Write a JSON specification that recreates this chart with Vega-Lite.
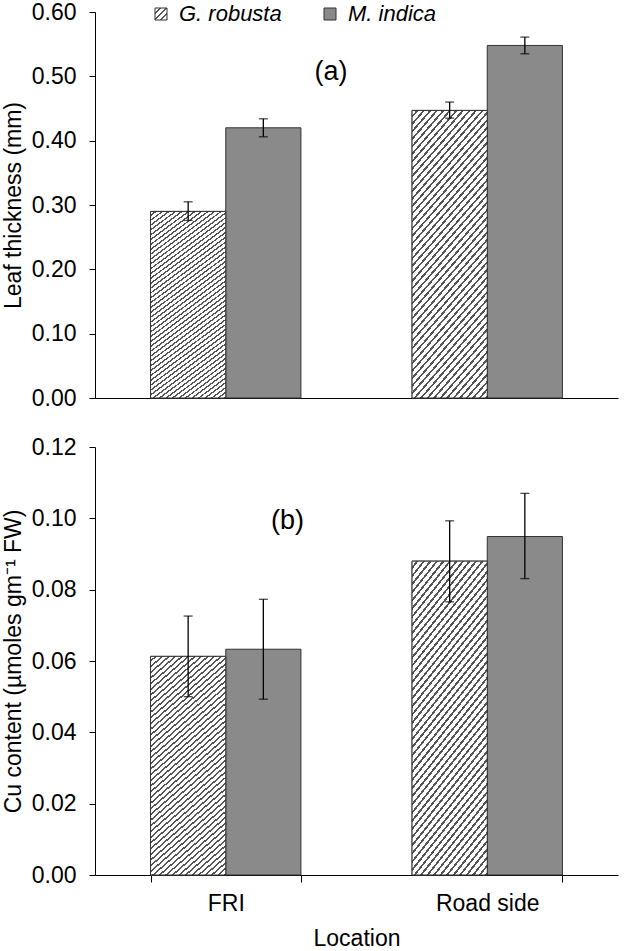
{
  "$schema": "https://vega.github.io/schema/vega-lite/v6.json",
  "padding": {"left": 2, "top": 1, "right": 5, "bottom": 5},
  "background": "white",
  "config": {
    "font": "Liberation Sans",
    "view": {"stroke": null},
    "axis": {
      "domainColor": "#000", "tickColor": "#000", "labelColor": "#000", "titleColor": "#000",
      "labelFontSize": 23, "titleFontSize": 23, "titleFontWeight": "normal",
      "grid": false, "tickSize": 6, "domainWidth": 1, "tickWidth": 1
    },
    "legend": {"labelFontSize": 22, "labelColor": "#000", "labelFontStyle": "italic", "padding": 0}
  },
  "data": {"values": [
    {"panel": "a", "location": "FRI", "species": "G. robusta", "value": 0.290, "lo": 0.276, "hi": 0.305},
    {"panel": "a", "location": "FRI", "species": "M. indica", "value": 0.420, "lo": 0.406, "hi": 0.434},
    {"panel": "a", "location": "Road side", "species": "G. robusta", "value": 0.447, "lo": 0.435, "hi": 0.460},
    {"panel": "a", "location": "Road side", "species": "M. indica", "value": 0.548, "lo": 0.535, "hi": 0.561},
    {"panel": "b", "location": "FRI", "species": "G. robusta", "value": 0.0613, "lo": 0.0500, "hi": 0.0726},
    {"panel": "b", "location": "FRI", "species": "M. indica", "value": 0.0633, "lo": 0.0493, "hi": 0.0773},
    {"panel": "b", "location": "Road side", "species": "G. robusta", "value": 0.0880, "lo": 0.0766, "hi": 0.0993},
    {"panel": "b", "location": "Road side", "species": "M. indica", "value": 0.0949, "lo": 0.0831, "hi": 0.1070}
  ]},
  "spacing": 26,
  "resolve": {"scale": {"fill": "shared"}},
  "vconcat": [
    {
      "width": 523,
      "height": 386,
      "layer": [
        {
          "transform": [{"filter": "datum.panel == 'a'"}],
          "mark": {"type": "bar", "stroke": "#333", "strokeWidth": 1},
          "encoding": {
            "x": {"field": "location", "type": "nominal", "scale": {"paddingInner": 0.425, "paddingOuter": 0.2125}, "axis": {"labels": false, "ticks": false, "title": null}},
            "xOffset": {"field": "species", "type": "nominal", "scale": {"paddingInner": 0, "paddingOuter": 0}},
            "y": {"field": "value", "type": "quantitative", "scale": {"domain": [0, 0.6]}, "axis": {"values": [0, 0.1, 0.2, 0.3, 0.4, 0.5, 0.6], "format": ".2f", "title": "Leaf thickness (mm)", "labelPadding": 13, "titlePadding": 6}},
            "fill": {"field": "species", "type": "nominal",
              "scale": {"domain": ["G. robusta", "M. indica"], "range": [
                {"expr": "{gradient: 'linear', x1: 0, y1: 0, x2: 1, y2: 1, stops: [{offset: 0, color: '#fff'}, {offset: 0.17, color: '#fff'}, {offset: 0.17, color: '#555'}, {offset: 0.25, color: '#555'}, {offset: 0.25, color: '#fff'}, {offset: 0.42, color: '#fff'}, {offset: 0.42, color: '#555'}, {offset: 0.5, color: '#555'}, {offset: 0.5, color: '#fff'}, {offset: 0.67, color: '#fff'}, {offset: 0.67, color: '#555'}, {offset: 0.75, color: '#555'}, {offset: 0.75, color: '#fff'}, {offset: 0.92, color: '#fff'}, {offset: 0.92, color: '#555'}, {offset: 1, color: '#555'}]}"},
                "#8a8a8a"
              ]},
              "legend": {"orient": "none", "direction": "horizontal", "legendX": 55, "legendY": -9, "title": null, "symbolType": "square", "symbolSize": 144, "symbolStrokeColor": "#333", "symbolStrokeWidth": 1, "columnPadding": 37, "labelOffset": 7}
            }
          }
        },
        {
          "transform": [{"filter": "datum.panel == 'a' && datum.species == 'G. robusta'"}],
          "mark": {"type": "bar", "stroke": "#333", "strokeWidth": 1,
            "fill": {"gradient": "linear", "x1": 0, "y1": 0, "x2": 0.358, "y2": 1.193, "stops": [
{"offset":0,"color":"#fff"},{"offset":0.013,"color":"#fff"},{"offset":0.013,"color":"#555"},{"offset":0.02,"color":"#555"},
{"offset":0.02,"color":"#fff"},{"offset":0.033,"color":"#fff"},{"offset":0.033,"color":"#555"},{"offset":0.04,"color":"#555"},
{"offset":0.04,"color":"#fff"},{"offset":0.053,"color":"#fff"},{"offset":0.053,"color":"#555"},{"offset":0.06,"color":"#555"},
{"offset":0.06,"color":"#fff"},{"offset":0.073,"color":"#fff"},{"offset":0.073,"color":"#555"},{"offset":0.08,"color":"#555"},
{"offset":0.08,"color":"#fff"},{"offset":0.093,"color":"#fff"},{"offset":0.093,"color":"#555"},{"offset":0.10,"color":"#555"},
{"offset":0.10,"color":"#fff"},{"offset":0.113,"color":"#fff"},{"offset":0.113,"color":"#555"},{"offset":0.12,"color":"#555"},
{"offset":0.12,"color":"#fff"},{"offset":0.133,"color":"#fff"},{"offset":0.133,"color":"#555"},{"offset":0.14,"color":"#555"},
{"offset":0.14,"color":"#fff"},{"offset":0.153,"color":"#fff"},{"offset":0.153,"color":"#555"},{"offset":0.16,"color":"#555"},
{"offset":0.16,"color":"#fff"},{"offset":0.173,"color":"#fff"},{"offset":0.173,"color":"#555"},{"offset":0.18,"color":"#555"},
{"offset":0.18,"color":"#fff"},{"offset":0.193,"color":"#fff"},{"offset":0.193,"color":"#555"},{"offset":0.20,"color":"#555"},
{"offset":0.20,"color":"#fff"},{"offset":0.213,"color":"#fff"},{"offset":0.213,"color":"#555"},{"offset":0.22,"color":"#555"},
{"offset":0.22,"color":"#fff"},{"offset":0.233,"color":"#fff"},{"offset":0.233,"color":"#555"},{"offset":0.24,"color":"#555"},
{"offset":0.24,"color":"#fff"},{"offset":0.253,"color":"#fff"},{"offset":0.253,"color":"#555"},{"offset":0.26,"color":"#555"},
{"offset":0.26,"color":"#fff"},{"offset":0.273,"color":"#fff"},{"offset":0.273,"color":"#555"},{"offset":0.28,"color":"#555"},
{"offset":0.28,"color":"#fff"},{"offset":0.293,"color":"#fff"},{"offset":0.293,"color":"#555"},{"offset":0.30,"color":"#555"},
{"offset":0.30,"color":"#fff"},{"offset":0.313,"color":"#fff"},{"offset":0.313,"color":"#555"},{"offset":0.32,"color":"#555"},
{"offset":0.32,"color":"#fff"},{"offset":0.333,"color":"#fff"},{"offset":0.333,"color":"#555"},{"offset":0.34,"color":"#555"},
{"offset":0.34,"color":"#fff"},{"offset":0.353,"color":"#fff"},{"offset":0.353,"color":"#555"},{"offset":0.36,"color":"#555"},
{"offset":0.36,"color":"#fff"},{"offset":0.373,"color":"#fff"},{"offset":0.373,"color":"#555"},{"offset":0.38,"color":"#555"},
{"offset":0.38,"color":"#fff"},{"offset":0.393,"color":"#fff"},{"offset":0.393,"color":"#555"},{"offset":0.40,"color":"#555"},
{"offset":0.40,"color":"#fff"},{"offset":0.413,"color":"#fff"},{"offset":0.413,"color":"#555"},{"offset":0.42,"color":"#555"},
{"offset":0.42,"color":"#fff"},{"offset":0.433,"color":"#fff"},{"offset":0.433,"color":"#555"},{"offset":0.44,"color":"#555"},
{"offset":0.44,"color":"#fff"},{"offset":0.453,"color":"#fff"},{"offset":0.453,"color":"#555"},{"offset":0.46,"color":"#555"},
{"offset":0.46,"color":"#fff"},{"offset":0.473,"color":"#fff"},{"offset":0.473,"color":"#555"},{"offset":0.48,"color":"#555"},
{"offset":0.48,"color":"#fff"},{"offset":0.493,"color":"#fff"},{"offset":0.493,"color":"#555"},{"offset":0.50,"color":"#555"},
{"offset":0.50,"color":"#fff"},{"offset":0.513,"color":"#fff"},{"offset":0.513,"color":"#555"},{"offset":0.52,"color":"#555"},
{"offset":0.52,"color":"#fff"},{"offset":0.533,"color":"#fff"},{"offset":0.533,"color":"#555"},{"offset":0.54,"color":"#555"},
{"offset":0.54,"color":"#fff"},{"offset":0.553,"color":"#fff"},{"offset":0.553,"color":"#555"},{"offset":0.56,"color":"#555"},
{"offset":0.56,"color":"#fff"},{"offset":0.573,"color":"#fff"},{"offset":0.573,"color":"#555"},{"offset":0.58,"color":"#555"},
{"offset":0.58,"color":"#fff"},{"offset":0.593,"color":"#fff"},{"offset":0.593,"color":"#555"},{"offset":0.60,"color":"#555"},
{"offset":0.60,"color":"#fff"},{"offset":0.613,"color":"#fff"},{"offset":0.613,"color":"#555"},{"offset":0.62,"color":"#555"},
{"offset":0.62,"color":"#fff"},{"offset":0.633,"color":"#fff"},{"offset":0.633,"color":"#555"},{"offset":0.64,"color":"#555"},
{"offset":0.64,"color":"#fff"},{"offset":0.653,"color":"#fff"},{"offset":0.653,"color":"#555"},{"offset":0.66,"color":"#555"},
{"offset":0.66,"color":"#fff"},{"offset":0.673,"color":"#fff"},{"offset":0.673,"color":"#555"},{"offset":0.68,"color":"#555"},
{"offset":0.68,"color":"#fff"},{"offset":0.693,"color":"#fff"},{"offset":0.693,"color":"#555"},{"offset":0.70,"color":"#555"},
{"offset":0.70,"color":"#fff"},{"offset":0.713,"color":"#fff"},{"offset":0.713,"color":"#555"},{"offset":0.72,"color":"#555"},
{"offset":0.72,"color":"#fff"},{"offset":0.733,"color":"#fff"},{"offset":0.733,"color":"#555"},{"offset":0.74,"color":"#555"},
{"offset":0.74,"color":"#fff"},{"offset":0.753,"color":"#fff"},{"offset":0.753,"color":"#555"},{"offset":0.76,"color":"#555"},
{"offset":0.76,"color":"#fff"},{"offset":0.773,"color":"#fff"},{"offset":0.773,"color":"#555"},{"offset":0.78,"color":"#555"},
{"offset":0.78,"color":"#fff"},{"offset":0.793,"color":"#fff"},{"offset":0.793,"color":"#555"},{"offset":0.80,"color":"#555"},
{"offset":0.80,"color":"#fff"},{"offset":0.813,"color":"#fff"},{"offset":0.813,"color":"#555"},{"offset":0.82,"color":"#555"},
{"offset":0.82,"color":"#fff"},{"offset":0.833,"color":"#fff"},{"offset":0.833,"color":"#555"},{"offset":0.84,"color":"#555"},
{"offset":0.84,"color":"#fff"},{"offset":0.853,"color":"#fff"},{"offset":0.853,"color":"#555"},{"offset":0.86,"color":"#555"},
{"offset":0.86,"color":"#fff"},{"offset":0.873,"color":"#fff"},{"offset":0.873,"color":"#555"},{"offset":0.88,"color":"#555"},
{"offset":0.88,"color":"#fff"},{"offset":0.893,"color":"#fff"},{"offset":0.893,"color":"#555"},{"offset":0.90,"color":"#555"},
{"offset":0.90,"color":"#fff"},{"offset":0.913,"color":"#fff"},{"offset":0.913,"color":"#555"},{"offset":0.92,"color":"#555"},
{"offset":0.92,"color":"#fff"},{"offset":0.933,"color":"#fff"},{"offset":0.933,"color":"#555"},{"offset":0.94,"color":"#555"},
{"offset":0.94,"color":"#fff"},{"offset":0.953,"color":"#fff"},{"offset":0.953,"color":"#555"},{"offset":0.96,"color":"#555"},
{"offset":0.96,"color":"#fff"},{"offset":0.973,"color":"#fff"},{"offset":0.973,"color":"#555"},{"offset":0.98,"color":"#555"},
{"offset":0.98,"color":"#fff"},{"offset":0.993,"color":"#fff"},{"offset":0.993,"color":"#555"},{"offset":1,"color":"#555"}
            ]}
          },
          "encoding": {
            "x": {"field": "location", "type": "nominal"},
            "xOffset": {"field": "species", "type": "nominal"},
            "y": {"field": "value", "type": "quantitative"}
          }
        },
        {
          "transform": [{"filter": "datum.panel == 'a'"}],
          "mark": {"type": "rule", "color": "#000", "strokeWidth": 1.3},
          "encoding": {
            "x": {"field": "location", "type": "nominal"},
            "xOffset": {"field": "species", "type": "nominal"},
            "y": {"field": "lo", "type": "quantitative"},
            "y2": {"field": "hi"}
          }
        },
        {
          "transform": [{"filter": "datum.panel == 'a'"}],
          "mark": {"type": "tick", "color": "#000", "size": 9, "thickness": 1.3},
          "encoding": {
            "x": {"field": "location", "type": "nominal"},
            "xOffset": {"field": "species", "type": "nominal"},
            "y": {"field": "lo", "type": "quantitative"}
          }
        },
        {
          "transform": [{"filter": "datum.panel == 'a'"}],
          "mark": {"type": "tick", "color": "#000", "size": 9, "thickness": 1.3},
          "encoding": {
            "x": {"field": "location", "type": "nominal"},
            "xOffset": {"field": "species", "type": "nominal"},
            "y": {"field": "hi", "type": "quantitative"}
          }
        },
        {
          "data": {"values": [{"label": "(a)"}]},
          "mark": {"type": "text", "fontSize": 27, "color": "#000", "font": "Liberation Sans"},
          "encoding": {
            "text": {"field": "label"},
            "x": {"datum": "FRI", "bandPosition": 1.2},
            "y": {"datum": 0.506}
          }
        }
      ]
    },
    {
      "width": 523,
      "height": 428,
      "layer": [
        {
          "transform": [{"filter": "datum.panel == 'b'"}],
          "mark": {"type": "bar", "stroke": "#333", "strokeWidth": 1},
          "encoding": {
            "x": {"field": "location", "type": "nominal", "scale": {"paddingInner": 0.425, "paddingOuter": 0.2125}, "axis": {"title": "Location", "labelAngle": 0, "tickBand": "extent", "tickSize": 7, "labelPadding": 10, "titlePadding": 12}},
            "xOffset": {"field": "species", "type": "nominal", "scale": {"paddingInner": 0, "paddingOuter": 0}},
            "y": {"field": "value", "type": "quantitative", "scale": {"domain": [0, 0.12]}, "axis": {"values": [0, 0.02, 0.04, 0.06, 0.08, 0.10, 0.12], "format": ".2f", "title": "Cu content (µmoles gm⁻¹ FW)", "labelPadding": 13, "titlePadding": 6}},
            "fill": {"field": "species", "type": "nominal", "legend": null}
          }
        },
        {
          "transform": [{"filter": "datum.panel == 'b' && datum.species == 'G. robusta'"}],
          "mark": {"type": "bar", "stroke": "#333", "strokeWidth": 1,
            "fill": {"gradient": "linear", "x1": 0, "y1": 0, "x2": 0.358, "y2": 1.193, "stops": [
{"offset":0,"color":"#fff"},{"offset":0.013,"color":"#fff"},{"offset":0.013,"color":"#555"},{"offset":0.02,"color":"#555"},
{"offset":0.02,"color":"#fff"},{"offset":0.033,"color":"#fff"},{"offset":0.033,"color":"#555"},{"offset":0.04,"color":"#555"},
{"offset":0.04,"color":"#fff"},{"offset":0.053,"color":"#fff"},{"offset":0.053,"color":"#555"},{"offset":0.06,"color":"#555"},
{"offset":0.06,"color":"#fff"},{"offset":0.073,"color":"#fff"},{"offset":0.073,"color":"#555"},{"offset":0.08,"color":"#555"},
{"offset":0.08,"color":"#fff"},{"offset":0.093,"color":"#fff"},{"offset":0.093,"color":"#555"},{"offset":0.10,"color":"#555"},
{"offset":0.10,"color":"#fff"},{"offset":0.113,"color":"#fff"},{"offset":0.113,"color":"#555"},{"offset":0.12,"color":"#555"},
{"offset":0.12,"color":"#fff"},{"offset":0.133,"color":"#fff"},{"offset":0.133,"color":"#555"},{"offset":0.14,"color":"#555"},
{"offset":0.14,"color":"#fff"},{"offset":0.153,"color":"#fff"},{"offset":0.153,"color":"#555"},{"offset":0.16,"color":"#555"},
{"offset":0.16,"color":"#fff"},{"offset":0.173,"color":"#fff"},{"offset":0.173,"color":"#555"},{"offset":0.18,"color":"#555"},
{"offset":0.18,"color":"#fff"},{"offset":0.193,"color":"#fff"},{"offset":0.193,"color":"#555"},{"offset":0.20,"color":"#555"},
{"offset":0.20,"color":"#fff"},{"offset":0.213,"color":"#fff"},{"offset":0.213,"color":"#555"},{"offset":0.22,"color":"#555"},
{"offset":0.22,"color":"#fff"},{"offset":0.233,"color":"#fff"},{"offset":0.233,"color":"#555"},{"offset":0.24,"color":"#555"},
{"offset":0.24,"color":"#fff"},{"offset":0.253,"color":"#fff"},{"offset":0.253,"color":"#555"},{"offset":0.26,"color":"#555"},
{"offset":0.26,"color":"#fff"},{"offset":0.273,"color":"#fff"},{"offset":0.273,"color":"#555"},{"offset":0.28,"color":"#555"},
{"offset":0.28,"color":"#fff"},{"offset":0.293,"color":"#fff"},{"offset":0.293,"color":"#555"},{"offset":0.30,"color":"#555"},
{"offset":0.30,"color":"#fff"},{"offset":0.313,"color":"#fff"},{"offset":0.313,"color":"#555"},{"offset":0.32,"color":"#555"},
{"offset":0.32,"color":"#fff"},{"offset":0.333,"color":"#fff"},{"offset":0.333,"color":"#555"},{"offset":0.34,"color":"#555"},
{"offset":0.34,"color":"#fff"},{"offset":0.353,"color":"#fff"},{"offset":0.353,"color":"#555"},{"offset":0.36,"color":"#555"},
{"offset":0.36,"color":"#fff"},{"offset":0.373,"color":"#fff"},{"offset":0.373,"color":"#555"},{"offset":0.38,"color":"#555"},
{"offset":0.38,"color":"#fff"},{"offset":0.393,"color":"#fff"},{"offset":0.393,"color":"#555"},{"offset":0.40,"color":"#555"},
{"offset":0.40,"color":"#fff"},{"offset":0.413,"color":"#fff"},{"offset":0.413,"color":"#555"},{"offset":0.42,"color":"#555"},
{"offset":0.42,"color":"#fff"},{"offset":0.433,"color":"#fff"},{"offset":0.433,"color":"#555"},{"offset":0.44,"color":"#555"},
{"offset":0.44,"color":"#fff"},{"offset":0.453,"color":"#fff"},{"offset":0.453,"color":"#555"},{"offset":0.46,"color":"#555"},
{"offset":0.46,"color":"#fff"},{"offset":0.473,"color":"#fff"},{"offset":0.473,"color":"#555"},{"offset":0.48,"color":"#555"},
{"offset":0.48,"color":"#fff"},{"offset":0.493,"color":"#fff"},{"offset":0.493,"color":"#555"},{"offset":0.50,"color":"#555"},
{"offset":0.50,"color":"#fff"},{"offset":0.513,"color":"#fff"},{"offset":0.513,"color":"#555"},{"offset":0.52,"color":"#555"},
{"offset":0.52,"color":"#fff"},{"offset":0.533,"color":"#fff"},{"offset":0.533,"color":"#555"},{"offset":0.54,"color":"#555"},
{"offset":0.54,"color":"#fff"},{"offset":0.553,"color":"#fff"},{"offset":0.553,"color":"#555"},{"offset":0.56,"color":"#555"},
{"offset":0.56,"color":"#fff"},{"offset":0.573,"color":"#fff"},{"offset":0.573,"color":"#555"},{"offset":0.58,"color":"#555"},
{"offset":0.58,"color":"#fff"},{"offset":0.593,"color":"#fff"},{"offset":0.593,"color":"#555"},{"offset":0.60,"color":"#555"},
{"offset":0.60,"color":"#fff"},{"offset":0.613,"color":"#fff"},{"offset":0.613,"color":"#555"},{"offset":0.62,"color":"#555"},
{"offset":0.62,"color":"#fff"},{"offset":0.633,"color":"#fff"},{"offset":0.633,"color":"#555"},{"offset":0.64,"color":"#555"},
{"offset":0.64,"color":"#fff"},{"offset":0.653,"color":"#fff"},{"offset":0.653,"color":"#555"},{"offset":0.66,"color":"#555"},
{"offset":0.66,"color":"#fff"},{"offset":0.673,"color":"#fff"},{"offset":0.673,"color":"#555"},{"offset":0.68,"color":"#555"},
{"offset":0.68,"color":"#fff"},{"offset":0.693,"color":"#fff"},{"offset":0.693,"color":"#555"},{"offset":0.70,"color":"#555"},
{"offset":0.70,"color":"#fff"},{"offset":0.713,"color":"#fff"},{"offset":0.713,"color":"#555"},{"offset":0.72,"color":"#555"},
{"offset":0.72,"color":"#fff"},{"offset":0.733,"color":"#fff"},{"offset":0.733,"color":"#555"},{"offset":0.74,"color":"#555"},
{"offset":0.74,"color":"#fff"},{"offset":0.753,"color":"#fff"},{"offset":0.753,"color":"#555"},{"offset":0.76,"color":"#555"},
{"offset":0.76,"color":"#fff"},{"offset":0.773,"color":"#fff"},{"offset":0.773,"color":"#555"},{"offset":0.78,"color":"#555"},
{"offset":0.78,"color":"#fff"},{"offset":0.793,"color":"#fff"},{"offset":0.793,"color":"#555"},{"offset":0.80,"color":"#555"},
{"offset":0.80,"color":"#fff"},{"offset":0.813,"color":"#fff"},{"offset":0.813,"color":"#555"},{"offset":0.82,"color":"#555"},
{"offset":0.82,"color":"#fff"},{"offset":0.833,"color":"#fff"},{"offset":0.833,"color":"#555"},{"offset":0.84,"color":"#555"},
{"offset":0.84,"color":"#fff"},{"offset":0.853,"color":"#fff"},{"offset":0.853,"color":"#555"},{"offset":0.86,"color":"#555"},
{"offset":0.86,"color":"#fff"},{"offset":0.873,"color":"#fff"},{"offset":0.873,"color":"#555"},{"offset":0.88,"color":"#555"},
{"offset":0.88,"color":"#fff"},{"offset":0.893,"color":"#fff"},{"offset":0.893,"color":"#555"},{"offset":0.90,"color":"#555"},
{"offset":0.90,"color":"#fff"},{"offset":0.913,"color":"#fff"},{"offset":0.913,"color":"#555"},{"offset":0.92,"color":"#555"},
{"offset":0.92,"color":"#fff"},{"offset":0.933,"color":"#fff"},{"offset":0.933,"color":"#555"},{"offset":0.94,"color":"#555"},
{"offset":0.94,"color":"#fff"},{"offset":0.953,"color":"#fff"},{"offset":0.953,"color":"#555"},{"offset":0.96,"color":"#555"},
{"offset":0.96,"color":"#fff"},{"offset":0.973,"color":"#fff"},{"offset":0.973,"color":"#555"},{"offset":0.98,"color":"#555"},
{"offset":0.98,"color":"#fff"},{"offset":0.993,"color":"#fff"},{"offset":0.993,"color":"#555"},{"offset":1,"color":"#555"}
            ]}
          },
          "encoding": {
            "x": {"field": "location", "type": "nominal"},
            "xOffset": {"field": "species", "type": "nominal"},
            "y": {"field": "value", "type": "quantitative"}
          }
        },
        {
          "transform": [{"filter": "datum.panel == 'b'"}],
          "mark": {"type": "rule", "color": "#000", "strokeWidth": 1.3},
          "encoding": {
            "x": {"field": "location", "type": "nominal"},
            "xOffset": {"field": "species", "type": "nominal"},
            "y": {"field": "lo", "type": "quantitative"},
            "y2": {"field": "hi"}
          }
        },
        {
          "transform": [{"filter": "datum.panel == 'b'"}],
          "mark": {"type": "tick", "color": "#000", "size": 9, "thickness": 1.3},
          "encoding": {
            "x": {"field": "location", "type": "nominal"},
            "xOffset": {"field": "species", "type": "nominal"},
            "y": {"field": "lo", "type": "quantitative"}
          }
        },
        {
          "transform": [{"filter": "datum.panel == 'b'"}],
          "mark": {"type": "tick", "color": "#000", "size": 9, "thickness": 1.3},
          "encoding": {
            "x": {"field": "location", "type": "nominal"},
            "xOffset": {"field": "species", "type": "nominal"},
            "y": {"field": "hi", "type": "quantitative"}
          }
        },
        {
          "data": {"values": [{"label": "(b)"}]},
          "mark": {"type": "text", "fontSize": 27, "color": "#000", "font": "Liberation Sans"},
          "encoding": {
            "text": {"field": "label"},
            "x": {"datum": "FRI", "bandPosition": 0.91},
            "y": {"datum": 0.0993}
          }
        }
      ]
    }
  ]
}
